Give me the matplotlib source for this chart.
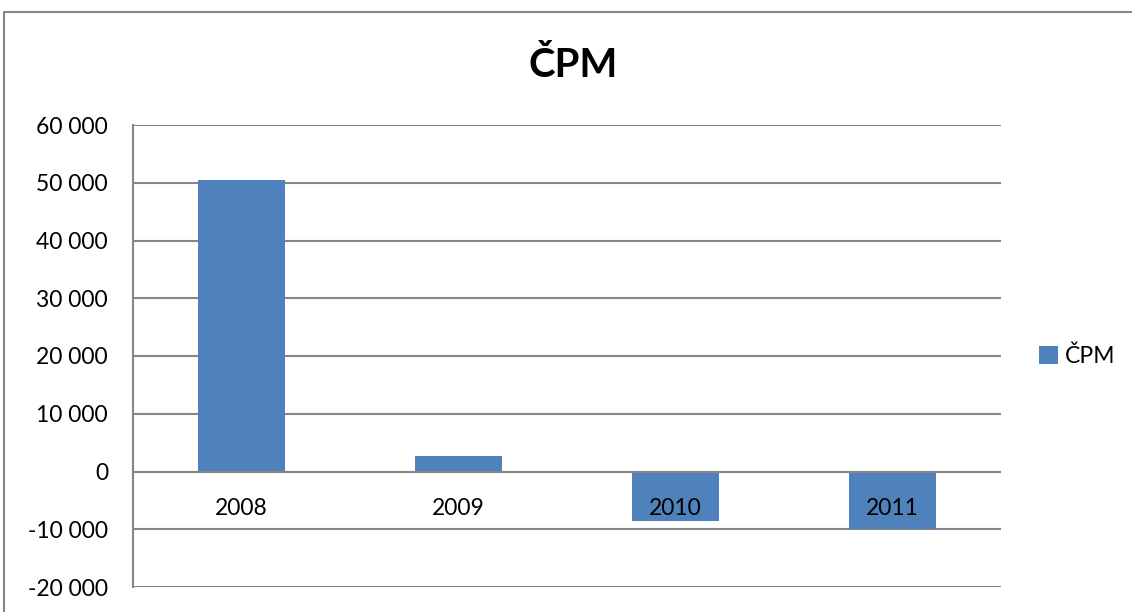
import numpy as np
import matplotlib
matplotlib.use("Agg")
import matplotlib.pyplot as plt
from matplotlib.patches import Rectangle
from matplotlib.ticker import FuncFormatter, MultipleLocator

years = ["2008", "2009", "2010", "2011"]
cpm = [50500, 2600, -8500, -10000]
series_name = "ČPM"

bar_color = "#4F81BD"
grid_color = "#868686"

plt.rcParams['font.family'] = ['Lato', 'DejaVu Sans']

fig = plt.figure(figsize=(11.32, 6.12), dpi=100)
ax = fig.add_axes([133 / 1132, 1 - 587 / 612, 868 / 1132, 462 / 612])

x = np.arange(len(years))
ax.bar(x, cpm, width=0.4, color=bar_color, zorder=3, label=series_name)

ax.set_xlim(-0.5, len(years) - 0.5)
ax.set_ylim(-20000, 60000)
ax.yaxis.set_major_locator(MultipleLocator(10000))
ax.yaxis.set_major_formatter(FuncFormatter(lambda v, p: f"{v:,.0f}".replace(",", " ")))
ax.grid(axis='y', color=grid_color, linewidth=1.5, zorder=0)
ax.axhline(0, color=grid_color, linewidth=1.5, zorder=4)
ax.set_xticks([])
ax.tick_params(axis='y', labelsize=16.5, length=0, pad=18)
for s in ['top', 'right', 'bottom']:
    ax.spines[s].set_visible(False)
ax.spines['left'].set_color(grid_color)
ax.spines['left'].set_linewidth(1.5)

for i, lab in enumerate(years):
    ax.annotate(lab, xy=(i, 0), xytext=(0, -37), textcoords='offset pixels',
                ha='center', va='center', fontsize=16.5, zorder=5)

fig.text(0.506, 0.893, series_name, ha='center', va='center',
         fontsize=29, fontweight='bold')

fig.legend(loc='center left', bbox_to_anchor=(0.9, 0.418), frameon=False,
           fontsize=16.5, handlelength=0.8, handleheight=0.8, handletextpad=0.3)

fig.patches.append(Rectangle((4 / 1132, -0.1), 1.2, 1.1 - 12 / 612,
                             transform=fig.transFigure, fill=False,
                             edgecolor=grid_color, linewidth=1.5))

fig.savefig("out.png", dpi=100)
